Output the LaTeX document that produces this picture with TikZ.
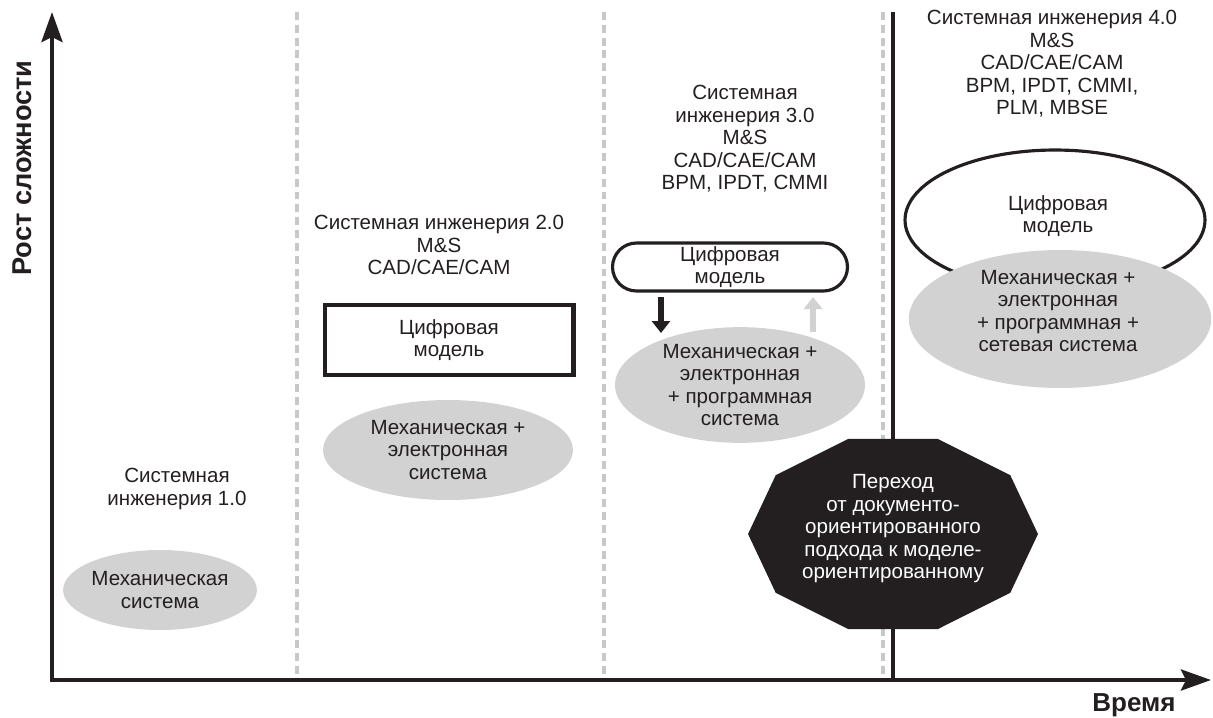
\documentclass[tikz,border=0pt]{standalone}
\usepackage{fontspec}
\setmainfont{Liberation Sans}
\usetikzlibrary{arrows.meta,shapes.geometric,shapes.misc}

\definecolor{ink}{HTML}{231F20}
\definecolor{blob}{HTML}{D2D2D2}
\definecolor{seam}{HTML}{C8C8C8}

\tikzset{
  txt/.style={align=center, inner sep=0pt, text=ink, font=\fontsize{11.7}{12.8}\selectfont},
  sysblob/.style={txt, ellipse, fill=blob},
  axis/.style={draw=ink, line width=2.4pt, line join=miter,
    {Stealth[length=0.6cm,width=0.42cm,inset=0.1cm]}-{Stealth[length=0.6cm,width=0.42cm,inset=0.1cm]}},
  era/.style={draw=seam, line width=2.8pt, dash pattern=on 4.5pt off 2.8pt},
  flow/.style={line width=3pt, -{Triangle[length=0.24cm,width=0.36cm]}},
}

\begin{document}
\begin{tikzpicture}[x=0.02cm, y=-0.02cm]
\useasboundingbox (0,0) rectangle (1213,717);

% axes
\coordinate (origin) at (52, 680);
\coordinate (ytop) at (52, 12);
\coordinate (xend) at (1211, 680);
\draw[era] (297,12) -- (297,678);
\draw[era] (604,12) -- (604,678);
\draw[era] (883,12) -- (883,678);
\draw[draw=ink, line width=2pt] (893,12) -- (893,680);
\draw[axis] (ytop) -- (origin) -- (xend);
\node[txt, font=\fontsize{15.5}{17}\selectfont\bfseries, rotate=90] (ylabel) at (22,168) {Рост сложности};
\node[txt, font=\fontsize{14.8}{17}\selectfont\bfseries] (xlabel) at (1134,705) {Время};

% 1.0
\node[txt] (se1) at (177,489) {Системная\\инженерия 1.0};
\node[sysblob, minimum width=3.8cm, minimum height=1.6cm] (mech1) at (160,590) {Механическая\\система};

% 2.0
\node[txt] (se2) at (439,245) {Системная инженерия 2.0\\M\&S\\CAD/CAE/CAM};
\node[txt, draw=ink, line width=2.3pt, minimum width=4.98cm, minimum height=1.4cm] (model2) at (449,340) {Цифровая\\модель};
\node[sysblob, minimum width=5cm, minimum height=2cm] (mech2) at (448,450) {Механическая +\\электронная\\система};

% 3.0
\node[txt] (se3) at (745,139) {Системная\\инженерия 3.0\\M\&S\\CAD/CAE/CAM\\BPM, IPDT, CMMI};
\node[txt, rounded rectangle, draw=ink, line width=1.8pt, minimum width=4.7cm, minimum height=0.96cm] (model3) at (730,267) {Цифровая\\модель};
\node[sysblob, minimum width=5cm, minimum height=2.16cm] (mech3) at (740,385) {Механическая +\\электронная\\+ программная\\система};
\coordinate (down1) at (661,297);
\coordinate (down2) at (661,333);
\coordinate (up1) at (813,332);
\coordinate (up2) at (813,297);
\draw[flow, ink] (down1) -- (down2);
\draw[flow, blob] (up1) -- (up2);

% transition
\fill[ink, shift={(893,534)}] (0:2.9cm and 2cm) \foreach \a in {36,72,...,324}{ -- (\a:2.9cm and 2cm)} -- cycle;
\node[txt, text=white] (transition) at (893,529) {Переход\\от документо-\\ориентированного\\подхода к моделе-\\ориентированному};

% 4.0
\node[txt] (se4) at (1052,64) {Системная инженерия 4.0\\M\&S\\CAD/CAE/CAM\\BPM, IPDT, CMMI,\\PLM, MBSE};
\node[txt, ellipse, draw=ink, line width=1.8pt, minimum width=6cm, minimum height=2.8cm] (model4) at (1055,220) {};
\node[txt] (model4txt) at (1058,216) {Цифровая\\модель};
\node[sysblob, minimum width=6.05cm, minimum height=2.76cm] (mech4) at (1060,319) {};
\node[txt] (mech4txt) at (1058,311) {Механическая +\\электронная\\+ программная +\\сетевая система};
\end{tikzpicture}
\end{document}
